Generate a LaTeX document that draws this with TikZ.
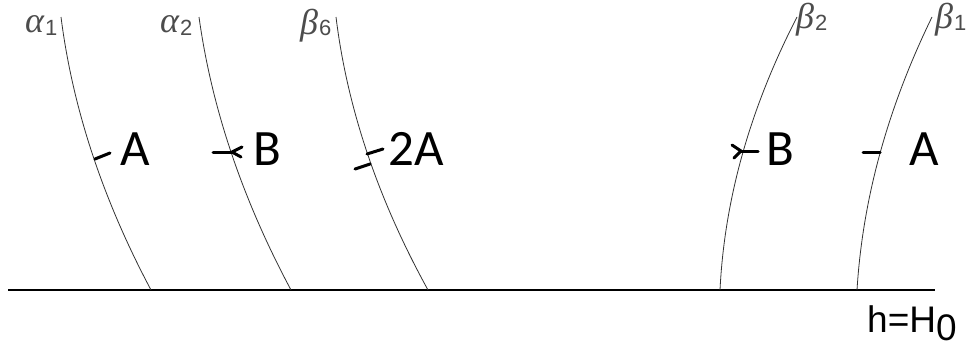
\documentclass[tikz,border=0pt]{standalone}
\usepackage{fontspec}
\usetikzlibrary{calc}
\newfontfamily\labf{Carlito}
\newfontfamily\arif{Liberation Sans}
\newfontfamily\grkf{Liberation Serif}
\newcommand{\subdig}[2]{\raisebox{#1}{\arif\upshape\fontsize{22}{22}\selectfont #2}}
\begin{document}
\begin{tikzpicture}[x=1pt,y=-1pt,
  curve/.style={draw=black!80,line width=0.8pt},
  tickmark/.style={draw=black,line width=3pt,line cap=round,line join=round},
  letter/.style={inner sep=0pt,font=\labf\fontsize{51}{51}\selectfont},
  greek/.style={inner sep=0pt,anchor=base west,text=black!70,font=\grkf\itshape\fontsize{36}{36}\selectfont},
  baseline/.style={draw=black,line width=1.6pt}]
\useasboundingbox (0,0) rectangle (971,349);
% ground line
\coordinate (gl) at (8,290);
\coordinate (gr) at (935,290);
\draw[baseline] (gl) -- (gr);
% curves: start, quadratic control, end
\foreach \n/\xa/\xc/\xb in {a1/61/78.4/151, a2/199/218/291, b6/336/352.8/428, b2/797/726.7/720, b1/932/865.4/857}{
  \coordinate (\n s) at (\xa,17);
  \coordinate (\n c) at (\xc,153.5);
  \coordinate (\n e) at (\xb,290);
  \draw[curve] (\n s) .. controls ($(\n s)!2/3!(\n c)$) and ($(\n e)!2/3!(\n c)$) .. (\n e);
}
% Greek labels
\node[greek] (la1) at (25,32) {α\kern1pt\subdig{-3pt}{1}};
\node[greek] (la2) at (160,32) {α\kern1pt\subdig{-3pt}{2}};
\node[greek] (lb6) at (300,34) {β\kern1pt\subdig{-1pt}{6}};
\node[greek] (lb2) at (796,28) {β\kern1pt\subdig{-2pt}{2}};
\node[greek] (lb1) at (935,28) {β\kern1pt\subdig{-2pt}{1}};
% tick marks
\coordinate (t1a) at (95,159); \coordinate (t1b) at (110,153);
\draw[tickmark] (t1a) -- (t1b);
\coordinate (t2a) at (213,152); \coordinate (t2v) at (232,152);
\coordinate (t2u) at (242,147); \coordinate (t2d) at (241,157);
\draw[tickmark] (t2a) -- (t2v); \draw[tickmark] (t2u) -- (t2v) -- (t2d);
\coordinate (t3a) at (355,169); \coordinate (t3b) at (370,164);
\coordinate (t3c) at (367,154); \coordinate (t3d) at (383,149);
\draw[tickmark] (t3a) -- (t3b); \draw[tickmark] (t3c) -- (t3d);
\coordinate (t4u) at (732,145); \coordinate (t4v) at (741,151);
\coordinate (t4d) at (734,158); \coordinate (t4e) at (758,151);
\draw[tickmark] (t4u) -- (t4v) -- (t4d); \draw[tickmark] (t4v) -- (t4e);
\coordinate (t5a) at (863,152); \coordinate (t5b) at (880,152);
\draw[tickmark] (t5a) -- (t5b);
% letter labels
\node[letter] (A1) at (135,149) {A};
\node[letter] (B1) at (267,149) {B};
\node[letter] (A2) at (416,149) {2A};
\node[letter] (B2) at (780,149) {B};
\node[letter] (A3) at (924,149) {A};
% level label
\node[inner sep=0pt,anchor=base west,font=\arif\fontsize{37}{37}\selectfont] (hl) at (867,332) {h=H\raisebox{-8pt}{0}};
\end{tikzpicture}
\end{document}
